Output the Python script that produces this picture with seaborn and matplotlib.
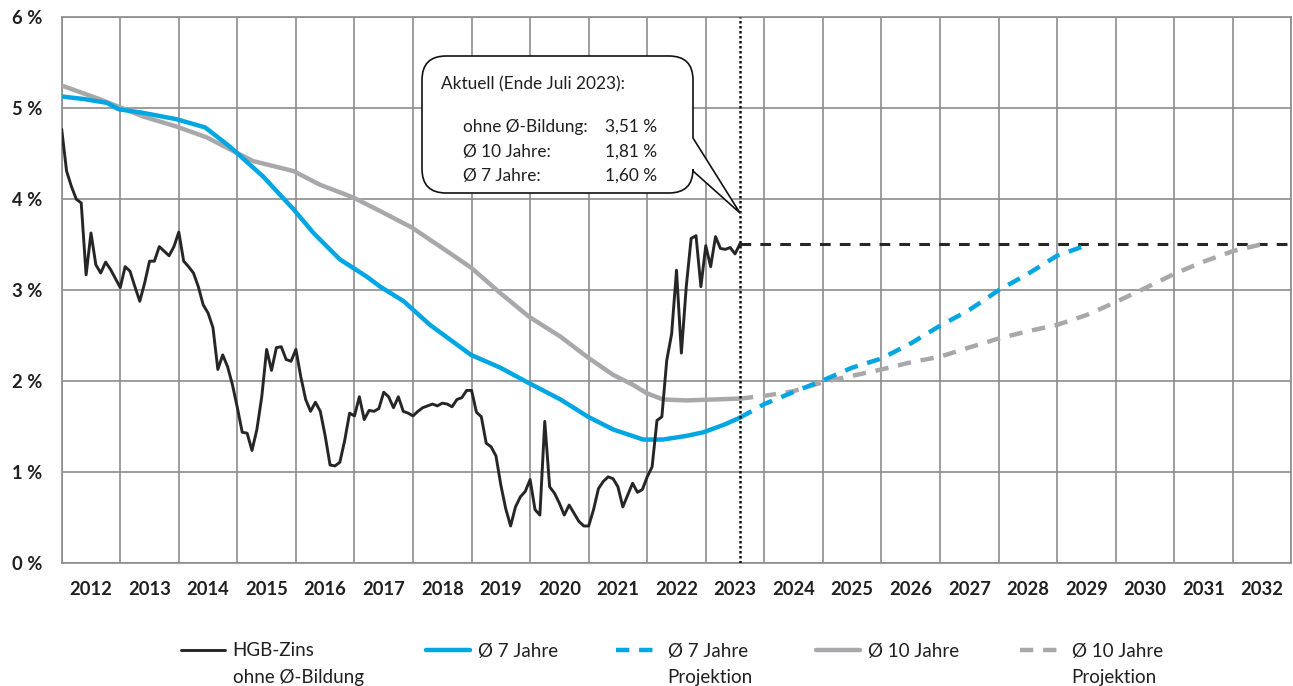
import numpy as np
import pandas as pd
import matplotlib
matplotlib.use("Agg")
import matplotlib.pyplot as plt
import seaborn as sns
from matplotlib.path import Path
from matplotlib.patches import PathPatch

# ---------------- data ----------------
hgb_start = 2012.0  # monthly values, end of Dec 2011 ... end of Jul 2023
hgb_zins = [
    4.77, 4.31, 4.14, 4.00, 3.96, 3.17, 3.63, 3.28, 3.19, 3.31, 3.23, 3.13,
    3.03, 3.26, 3.21, 3.04, 2.88, 3.08, 3.32, 3.32, 3.48, 3.43, 3.38, 3.48,
    3.64, 3.32, 3.26, 3.19, 3.04, 2.84, 2.75, 2.59, 2.13, 2.29, 2.16, 1.96,
    1.71, 1.44, 1.43, 1.24, 1.47, 1.83, 2.35, 2.12, 2.37, 2.38, 2.24, 2.22,
    2.35, 2.05, 1.80, 1.67, 1.77, 1.67, 1.40, 1.08, 1.07, 1.11, 1.35, 1.65,
    1.62, 1.83, 1.58, 1.68, 1.67, 1.70, 1.88, 1.83, 1.71, 1.83, 1.67, 1.65,
    1.62, 1.67, 1.71, 1.73, 1.75, 1.73, 1.76, 1.75, 1.72, 1.80, 1.82, 1.90,
    1.90, 1.66, 1.61, 1.32, 1.28, 1.18, 0.86, 0.60, 0.41, 0.62, 0.73, 0.79,
    0.92, 0.59, 0.53, 1.56, 0.84, 0.77, 0.66, 0.53, 0.64, 0.55, 0.46, 0.41,
    0.41, 0.59, 0.82, 0.90, 0.95, 0.93, 0.84, 0.62, 0.75, 0.88, 0.78, 0.81,
    0.95, 1.06, 1.57, 1.61, 2.23, 2.52, 3.22, 2.31, 3.04, 3.57, 3.60, 3.04,
    3.49, 3.26, 3.59, 3.46, 3.45, 3.47, 3.40, 3.51,
]

avg7_years = [2012.0, 2012.4, 2012.77, 2012.97, 2013.39, 2013.96, 2014.45, 2014.87,
              2015.44, 2015.96, 2016.30, 2016.75, 2017.21, 2017.44, 2017.84, 2018.29,
              2018.99, 2019.49, 2019.98, 2020.52, 2020.99, 2021.42, 2021.93, 2022.27,
              2022.67, 2022.96, 2023.30, 2023.583]
avg7_values = [5.13, 5.10, 5.06, 4.99, 4.95, 4.88, 4.79, 4.58,
               4.25, 3.89, 3.63, 3.34, 3.15, 3.04, 2.88, 2.62,
               2.29, 2.15, 1.98, 1.80, 1.61, 1.47, 1.36, 1.36,
               1.40, 1.44, 1.52, 1.60]

avg10_years = [2012.0, 2012.65, 2013.39, 2013.96, 2014.48, 2014.93, 2015.27, 2015.96,
               2016.41, 2016.98, 2017.44, 2017.98, 2018.58, 2018.99, 2019.49, 2019.98,
               2020.52, 2020.99, 2021.42, 2021.76, 2021.99, 2022.27, 2022.67, 2023.13,
               2023.583]
avg10_values = [5.25, 5.10, 4.91, 4.80, 4.68, 4.53, 4.42, 4.31,
                4.16, 4.02, 3.87, 3.69, 3.43, 3.25, 2.97, 2.71,
                2.49, 2.26, 2.07, 1.96, 1.87, 1.80, 1.79, 1.80,
                1.81]

proj7_years = [2023.583, 2024.0, 2024.49, 2025.0, 2025.5, 2026.0, 2026.51, 2027.0,
               2027.49, 2028.0, 2028.5, 2029.0, 2029.57]
proj7_values = [1.60, 1.75, 1.88, 2.01, 2.15, 2.25, 2.42, 2.61,
                2.78, 3.00, 3.18, 3.38, 3.51]

proj10_years = [2023.583, 2024.0, 2024.49, 2025.0, 2025.5, 2026.0, 2026.51, 2027.0,
                2027.49, 2028.0, 2028.5, 2029.0, 2029.51, 2030.0, 2030.49, 2031.0,
                2031.48, 2032.0, 2032.46, 2032.6]
proj10_values = [1.81, 1.84, 1.89, 1.99, 2.06, 2.13, 2.21, 2.27,
                 2.37, 2.47, 2.55, 2.62, 2.73, 2.87, 3.02, 3.18,
                 3.31, 3.43, 3.50, 3.51]

x_end = 2033
year_labels = list(range(2012, 2033))
y_ticks = [0, 1, 2, 3, 4, 5, 6]

legend_first = ["HGB-Zins", "Ø 7 Jahre", "Ø 7 Jahre", "Ø 10 Jahre", "Ø 10 Jahre"]
legend_second = ["ohne Ø-Bildung", "", "Projektion", "", "Projektion"]

annot_title = "Aktuell (Ende Juli 2023):"
annot_names = ["ohne Ø-Bildung:", "Ø 10 Jahre:", "Ø 7 Jahre:"]
annot_values = ["3,51 %", "1,81 %", "1,60 %"]

# ---------------- style ----------------
C_BLACK = "#262626"
C_BLUE = "#00A6E2"
C_GRAY = "#A8A8AB"
C_GRID = "#8c8c8c"
TXT = "#1f1f1f"

sns.set_theme(style="white")
plt.rcParams['font.family'] = ['Lato', 'DejaVu Sans']

W, H = 1293, 686
fig = plt.figure(figsize=(W / 100, H / 100), dpi=100)
ax = fig.add_axes([61.7 / W, 1 - 563.3 / H, (1291.3 - 61.7) / W, (563.3 - 17.3) / H])

hgb_x = hgb_start + np.arange(len(hgb_zins)) / 12.0
df_hgb = pd.DataFrame({"t": hgb_x, "v": hgb_zins})
df7 = pd.DataFrame({"t": avg7_years, "v": avg7_values})
df10 = pd.DataFrame({"t": avg10_years, "v": avg10_values})
dfp7 = pd.DataFrame({"t": proj7_years, "v": proj7_values})
dfp10 = pd.DataFrame({"t": proj10_years, "v": proj10_values})
df_level = pd.DataFrame({"t": [hgb_x[-1], x_end], "v": [hgb_zins[-1], hgb_zins[-1]]})

# level line (dashed black)
sns.lineplot(data=df_level, x="t", y="v", ax=ax, color=C_BLACK, lw=2.2, zorder=3)
ax.lines[-1].set_dashes((3.5, 3))

sns.lineplot(data=dfp10, x="t", y="v", ax=ax, color=C_GRAY, lw=3.2, zorder=3)
l10p = ax.lines[-1]
l10p.set_dashes((3, 2.2))
sns.lineplot(data=dfp7, x="t", y="v", ax=ax, color=C_BLUE, lw=3.2, zorder=3)
l7p = ax.lines[-1]
l7p.set_dashes((3, 2.2))

sns.lineplot(data=df10, x="t", y="v", ax=ax, color=C_GRAY, lw=3.2, zorder=4)
l10 = ax.lines[-1]
sns.lineplot(data=df7, x="t", y="v", ax=ax, color=C_BLUE, lw=3.2, zorder=4)
l7 = ax.lines[-1]
sns.lineplot(data=df_hgb, x="t", y="v", ax=ax, color=C_BLACK, lw=2.1, zorder=5)
lh = ax.lines[-1]

ax.axvline(hgb_x[-1], color="#111111", lw=1.8, linestyle=(0, (1, 1)), zorder=6)

ax.set_xlim(2012, x_end)
ax.set_ylim(0, 6)
ax.set_xticks(range(2012, x_end + 1))
ax.set_xticklabels([])
ax.set_xticks([y + 0.5 for y in year_labels], minor=True)
ax.set_xticklabels([str(y) for y in year_labels], minor=True,
                   fontsize=13.2, fontweight="bold", color=TXT)
ax.set_yticks(y_ticks)
ax.set_yticklabels([f"{v} %" for v in y_ticks], fontsize=13.2,
                   fontweight="bold", color=TXT)
ax.tick_params(axis="both", which="both", length=0)
ax.tick_params(axis="x", which="minor", pad=13)
ax.tick_params(axis="y", pad=14)
ax.set_xlabel("")
ax.set_ylabel("")
ax.grid(True, which="major", color=C_GRID, lw=1.2)
ax.set_axisbelow(True)
for s in ax.spines.values():
    s.set_color(C_GRID)
    s.set_linewidth(1.2)

# ---------------- callout ----------------
def px(x, y):
    return (x / 100.0, (H - y) / 100.0)

x0, x1, yt, yb, r = 422, 693, 56, 193, 24
tail_up, tail_lo, tip = 138, 171, (740, 213)
verts = [
    px(x0 + r, yt), px(x1 - r, yt),
    px(x1, yt), px(x1, yt + r),
    px(x1, tail_up), px(*tip), px(x1, tail_lo),
    px(x1, yb - r),
    px(x1, yb), px(x1 - r, yb),
    px(x0 + r, yb),
    px(x0, yb), px(x0, yb - r),
    px(x0, yt + r),
    px(x0, yt), px(x0 + r, yt),
    px(x0 + r, yt),
]
codes = [Path.MOVETO, Path.LINETO,
         Path.CURVE3, Path.CURVE3,
         Path.LINETO, Path.LINETO, Path.LINETO,
         Path.LINETO,
         Path.CURVE3, Path.CURVE3,
         Path.LINETO,
         Path.CURVE3, Path.CURVE3,
         Path.LINETO,
         Path.CURVE3, Path.CURVE3,
         Path.CLOSEPOLY]
callout = PathPatch(Path(verts, codes), transform=fig.dpi_scale_trans,
                    facecolor="white", edgecolor="#111111", lw=1.2, zorder=10)
fig.add_artist(callout)

tk = dict(transform=fig.dpi_scale_trans, fontsize=12.4, color=TXT, zorder=11)
fig.text(*px(441, 84), annot_title, ha="left", va="center", **tk)
for i, (nm, vl) in enumerate(zip(annot_names, annot_values)):
    yy = [127, 152, 176][i]
    fig.text(*px(463, yy), nm, ha="left", va="center", **tk)
    fig.text(*px(657, yy), vl, ha="right", va="center", **tk)

# ---------------- legend ----------------
handles = [lh, l7, l7p, l10, l10p]
anchor_x = [181, 426, 616, 816, 1020]
legs = []
for h, lab, ax_px in zip(handles, legend_first, anchor_x):
    lg = fig.legend(handles=[h], labels=[lab], loc="center left",
                    bbox_to_anchor=(ax_px / W, 1 - 651 / H), frameon=False,
                    borderpad=0, borderaxespad=0, handlelength=2.35,
                    handletextpad=0.4, fontsize=13.5, labelcolor=TXT)
    legs.append(lg)

fig.canvas.draw()
for lg, second in zip(legs, legend_second):
    if not second:
        continue
    bb = lg.get_texts()[0].get_window_extent()
    fig.text(bb.x0 / W, (bb.y0 - 27) / H, second, ha="left", va="bottom",
             fontsize=13.5, color=TXT)

fig.savefig("out.png", dpi=100)
